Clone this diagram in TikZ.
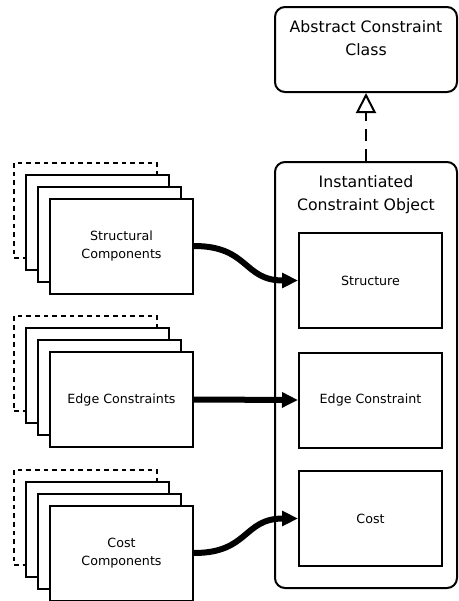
\documentclass[tikz,border=0pt]{standalone}
\usepackage{fontspec}
\setmainfont{DejaVu Sans}
\usetikzlibrary{arrows.meta}

\tikzset{
    compbox/.style={draw, fill=white, line width=1.5pt, minimum width=107.25pt, minimum height=71.25pt, inner sep=0.75pt, align=center, font=\fontsize{9.5}{13.5}\selectfont},
    stackdash/.style={compbox, dash pattern=on 3.5pt off 3pt},
    classbox/.style={draw, line width=1.5pt, rounded corners=7.5pt, minimum width=136.5pt},
    titletext/.style={inner sep=0.75pt, align=center, font=\fontsize{11.8}{17.5}\selectfont},
    flow/.style={line width=4.5pt, -{Triangle[length=12pt,width=11pt]}},
    realize/.style={line width=1.5pt, dash pattern=on 9pt off 6pt, -{Triangle[open,length=15pt,width=15pt,fill=white,line width=1.5pt]}}
}

\begin{document}
\begin{tikzpicture}[x=0.75pt,y=0.75pt,yscale=-1]
        \useasboundingbox (0,0) rectangle (458,601);

        %Shape: Rounded Rect (abstract class)
        \node[classbox, minimum height=63.75pt] (abs) at (366,49.5) {};
        % Text Node
        \node[titletext, anchor=north] (abstitle) at (366,19) {Abstract Constraint\\Class};

        %Shape: Rounded Rect (instance)
        \node[classbox, minimum height=319.5pt] (inst) at (366,375) {};
        % Text Node
        \node[titletext, anchor=north] (insttitle) at (366,174) {Instantiated\\Constraint Object};

        %Straight Lines (realization)
        \draw[realize] (inst.north) -- (abs.south);

        %Shape: Rectangle (parts of the instance)
        \node[compbox] (structure) at (370.5,280.5) {Structure};
        \node[compbox] (edgec) at (370.5,400) {Edge Constraint};
        \node[compbox] (costp) at (370.5,518.5) {Cost};

        %Shape: Stacks of component boxes
        \foreach \cy/\nm/\txt in {246/struct/{Structural\\Components}, 399.5/edge/{Edge Constraints}, 553/cost/{Cost\\Components}} {
            \node[stackdash] (\nm-3) at (85.5,{\cy-36}) {};
            \node[compbox] (\nm-2) at (97.5,{\cy-24}) {};
            \node[compbox] (\nm-1) at (109.5,{\cy-12}) {};
            \node[compbox] (\nm) at (121.5,\cy) {\txt};
        }

        %Curve Lines
        \draw[flow] (struct.east) .. controls +(55,0) and +(-55,0) .. (structure.west);
        %Straight Lines
        \draw[flow] (edge.east) -- (edgec.west);
        %Curve Lines
        \draw[flow] (cost.east) .. controls +(55,0) and +(-55,0) .. (costp.west);

\end{tikzpicture}
\end{document}
